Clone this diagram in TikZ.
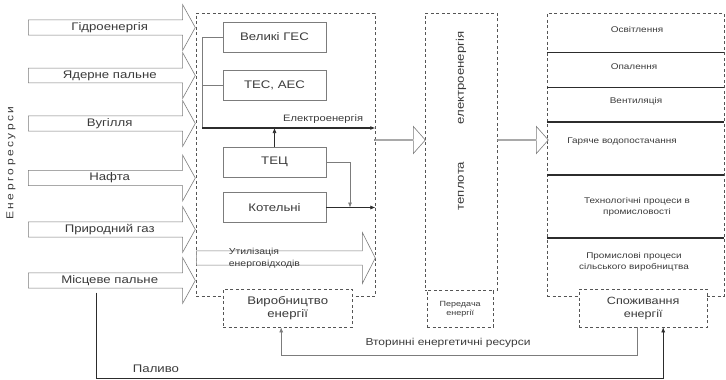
\documentclass[tikz,border=0pt]{standalone}
\usepackage{fontspec}
\setmainfont{Liberation Sans}[FakeStretch=1.2]
\usetikzlibrary{shapes.arrows, arrows.meta, positioning, calc}
\definecolor{linegray}{HTML}{7C7C7C}
\definecolor{dashgray}{HTML}{555555}
\definecolor{txtgray}{HTML}{3A3A3A}
\definecolor{darkline}{HTML}{2C2C2C}
\tikzset{
    src/.style={single arrow, draw=linegray, line width=0.6pt, fill=white, anchor=tail, minimum height=167pt, minimum width=46pt, single arrow head extend=11pt, single arrow tip angle=122, inner sep=0pt, text=txtgray, font=\fontsize{11}{12}\selectfont},
    flow/.style={single arrow, draw=linegray, line width=0.6pt, fill=white, anchor=tail, minimum height=51pt, minimum width=27pt, single arrow head extend=6.5pt, single arrow tip angle=97, inner sep=0pt},
    area/.style={draw=dashgray, dash pattern=on 3pt off 2.5pt, anchor=north west, inner sep=0pt},
    caption/.style={area, fill=white, align=center, text=txtgray},
    unit/.style={draw=linegray, line width=0.6pt, minimum width=103pt, minimum height=30pt, text=txtgray, font=\fontsize{11}{12}\selectfont},
    wire/.style={draw=linegray, line width=0.6pt},
    bus/.style={draw=darkline, line width=1.6pt, -{Latex[length=5pt, width=4pt]}},
    lbl/.style={text=txtgray, align=center, inner sep=0pt},
    use/.style={lbl, font=\fontsize{8.3}{10.5}\selectfont},
    arr/.style={-{Latex[length=5pt, width=4pt]}}
}

\begin{document}
\begin{tikzpicture}[x=1pt, y=-1pt]
    \useasboundingbox (0,0) rectangle (726,380);
    \node [area, minimum width=179pt, minimum height=283pt] (prod) at (196,13) {};
    \node [area, minimum width=72pt, minimum height=277pt] (trans) at (425,13) {};
    \node [area, minimum width=177pt, minimum height=283pt] (cons) at (547,13) {};

    \node [src] (hydro) at (28,27.5) {Гідроенергія};
    \node [src] (nucl) at (28,75.5) {Ядерне пальне};
    \node [src] (coal) at (28,123.5) {Вугілля};
    \node [src] (oil) at (28,178) {Нафта};
    \node [src] (gas) at (28,229.5) {Природний газ};
    \node [src] (local) at (28,280.5) {Місцеве пальне};
    \node [lbl, rotate=90, font=\fontsize{10}{12}\selectfont\addfontfeatures{LetterSpace=25}] (res) at (11,163) {Енергоресурси};

    \node [unit] (ges) at (274.5,37) {Великі ГЕС};
    \node [unit] (tes) at (274.5,85.5) {ТЕС, АЕС};
    \node [unit] (tec) at (274.5,162) {ТЕЦ};
    \node [unit] (kot) at (274.5,207.5) {Котельні};
    \coordinate (busl) at (202,128);
    \coordinate (busr) at (prod.east |- busl);
    \coordinate (join) at (350,207.5);
    \draw [wire] (ges.west) -| (busl);
    \draw [wire] (tes.west) -- (tes.west -| busl);
    \draw [bus] (busl) -- (busr);
    \node [lbl, font=\fontsize{9.3}{11}\selectfont, above left=4pt and 12pt of busr] (el) {Електроенергія};
    \draw [wire, draw=darkline, arr] (tec.north) -- (tec.north |- busl);
    \draw [wire, arr] (tec.east) -| (join);
    \draw [wire, draw=darkline, arr] (kot.east) -- (kot.east -| prod.east);

    \node [single arrow, draw=linegray, line width=0.6pt, fill=white, anchor=tail, minimum height=179pt, minimum width=51pt, single arrow head extend=9.5pt, single arrow tip angle=126] (util) at (196,258) {};
    \node [lbl, align=left, anchor=west, xshift=6pt, font=\fontsize{8.7}{12}\selectfont] (utiltxt) at (kot.west |- util.tail) {Утилізація\\енерговідходів};
    \node [caption, minimum width=129pt, minimum height=38pt, font=\fontsize{11}{12.5}\selectfont] (prodlbl) at (223,289) {Виробництво\\енергії};

    \node [flow] (a1) at (374,140) {};
    \node [lbl, rotate=90, font=\fontsize{11}{12}\selectfont] (elec) at (461,78) {електроенергія};
    \node [lbl, rotate=90, font=\fontsize{11}{12}\selectfont] (heat) at (461,186) {теплота};
    \node [caption, minimum width=66pt, minimum height=37pt, font=\fontsize{7.5}{9}\selectfont] (translbl) at (427,290) {Передача\\енергії};
    \node [flow] (a2) at (497,140) {};

    \foreach \y/\w in {52/0.9, 87/0.9, 122/1.2, 175/1.5, 238/1.1}
        \draw [draw=darkline, line width=\w pt] (cons.west |- 0,\y) -- (cons.east |- 0,\y);
    \node [use] (light) at (637,30) {Освітлення};
    \node [use] (heatg) at (634,67) {Опалення};
    \node [use] (vent) at (636,101) {Вентиляція};
    \node [use] (water) at (622,142) {Гаряче водопостачання};
    \node [use] (tech) at (637,207) {Технологічні процеси в\\промисловості};
    \node [use] (agro) at (634,262) {Промислові процеси\\сільського виробництва};
    \node [caption, minimum width=128pt, minimum height=38pt, font=\fontsize{10.5}{12.5}\selectfont] (conslbl) at (579,289) {Споживання\\енергії};

    \coordinate (fuel) at (96,292.5);
    \draw [wire, arr] ([xshift=-6pt]conslbl.south) -- ++(0,28) -| ([xshift=-6.5pt]prodlbl.south);
    \node [lbl, font=\fontsize{10}{12}\selectfont] (sec) at (448,343) {Вторинні енергетичні ресурси};
    \draw [wire, draw=darkline, arr] (fuel) -- ++(0,85.5) -| ([xshift=20pt]conslbl.south);
    \node [lbl, font=\fontsize{11}{12}\selectfont] (fueltxt) at (156,369) {Паливо};
\end{tikzpicture}
\end{document}
